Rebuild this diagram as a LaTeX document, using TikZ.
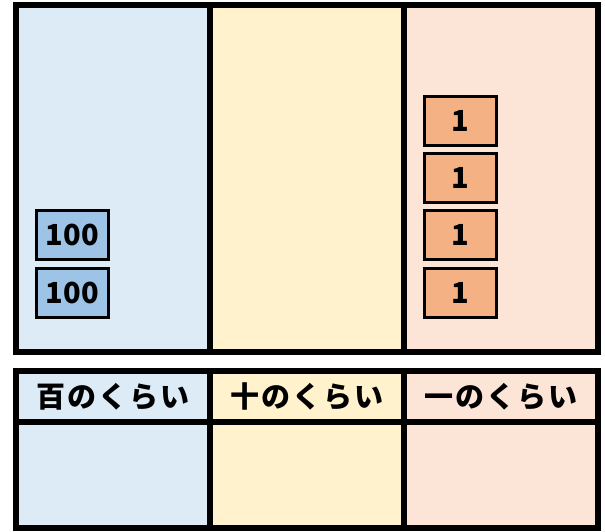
\documentclass[tikz,border=0pt]{standalone}
\usepackage{fontspec}
\newfontfamily\jpfont{Noto Sans CJK JP}

\definecolor{hundblue}{HTML}{DDEBF7}
\definecolor{tenyellow}{HTML}{FFF2CC}
\definecolor{onepeach}{HTML}{FCE4D6}
\definecolor{tileblue}{HTML}{9DC3E6}
\definecolor{tileorange}{HTML}{F4B183}

\begin{document}
\begin{tikzpicture}[x=1pt,y=-1pt,node distance=57.3pt,
  place cell/.style={draw,line width=6pt,minimum width=194pt,inner sep=0pt},
  head cell/.style={place cell,minimum height=51pt,
    font=\jpfont\addfontfeature{LetterSpace=7}\bfseries\fontsize{29}{29}\selectfont},
  hundred tile/.style={draw,line width=3pt,fill=tileblue,minimum width=72pt,minimum height=49pt,
    inner sep=0pt,font=\jpfont\addfontfeature{LetterSpace=2}\bfseries\fontsize{29}{29}\selectfont},
  one tile/.style={hundred tile,fill=tileorange}]

  \useasboundingbox (0,0) rectangle (605,531);

  % top board
  \node[place cell,fill=hundblue,minimum height=347pt] (H) at (113,178.5) {};
  \node[place cell,fill=tenyellow,minimum height=347pt] (T) at (307,178.5) {};
  \node[place cell,fill=onepeach,minimum height=347pt] (O) at (501,178.5) {};

  % tiles
  \node[hundred tile] (h2) at (72.5,292.5) {100};
  \node[hundred tile] (h1) [above of=h2] {100};
  \node[one tile] (o4) at (460.5,292.5) {1};
  \node[one tile] (o3) [above of=o4] {1};
  \node[one tile] (o2) [above of=o3] {1};
  \node[one tile] (o1) [above of=o2] {1};

  % table below
  \node[head cell,fill=hundblue] (Hhead) at (113,396.5) {百のくらい};
  \node[head cell,fill=tenyellow] (Thead) at (307,396.5) {十のくらい};
  \node[head cell,fill=onepeach] (Ohead) at (501,396.5) {一のくらい};
  \node[place cell,fill=hundblue,minimum height=106pt] (Hnum) at (113,475) {};
  \node[place cell,fill=tenyellow,minimum height=106pt] (Tnum) at (307,475) {};
  \node[place cell,fill=onepeach,minimum height=106pt] (Onum) at (501,475) {};
\end{tikzpicture}
\end{document}
